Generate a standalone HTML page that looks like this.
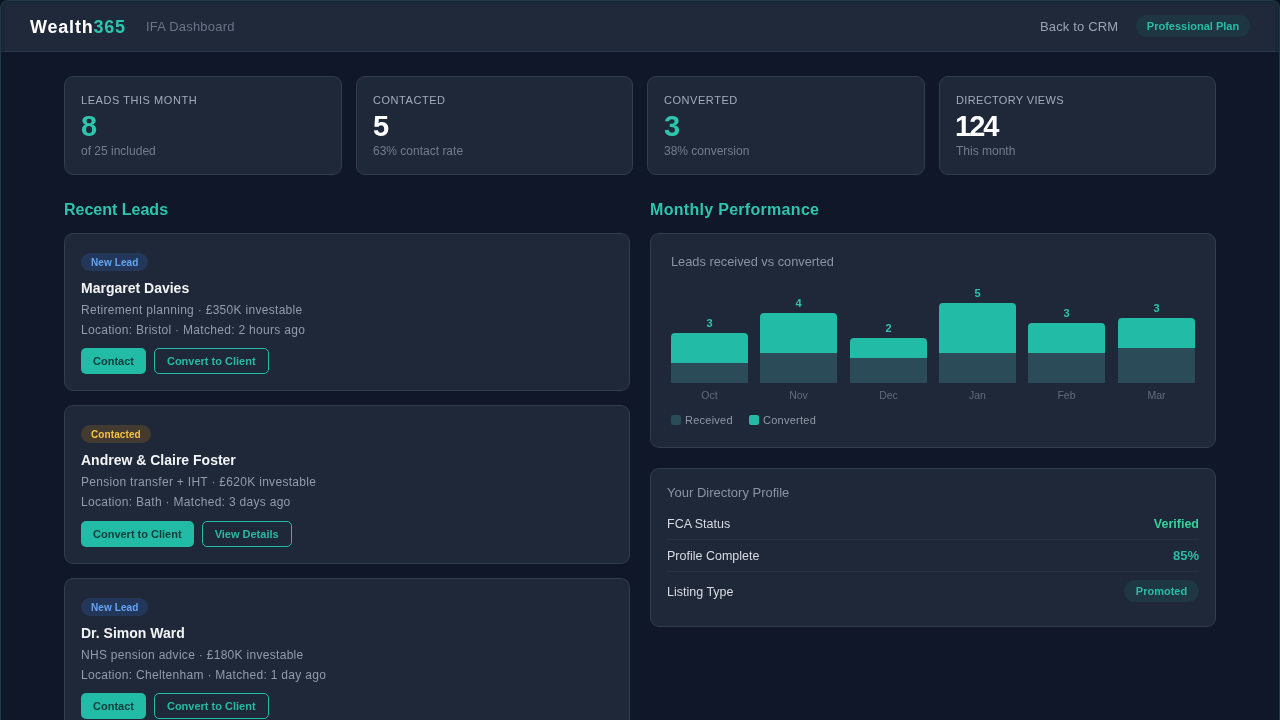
<!DOCTYPE html>
<html><head><meta charset="utf-8">
<style>
*{box-sizing:border-box;margin:0;padding:0}
html,body{width:1280px;height:720px;overflow:hidden;background:#0b1220}
body{font-family:"Liberation Sans",sans-serif;color:#e5e7eb;position:relative}
.frame{will-change:transform;position:absolute;left:0;top:0;width:1280px;height:720px;background:#0f1729;border-radius:8px 8px 0 0;overflow:hidden}
.ov{position:absolute;left:0;top:0;width:1280px;height:730px;border:1px solid #223848;border-radius:8px;pointer-events:none;box-shadow:inset 0 0 0 4px rgba(0,35,45,0.22)}
.hdr{position:absolute;left:0;top:0;width:1280px;height:52px;background:#1f293a;border-bottom:1px solid #2a3748}
.logo{position:absolute;left:30px;top:14.5px;font-size:18px;font-weight:bold;color:#fff;letter-spacing:0.8px;line-height:24px}
.logo span{color:#2ec4ad}
.sub{position:absolute;left:146px;top:19px;font-size:13px;color:#6b7384;line-height:16px;letter-spacing:0.2px}
.back{position:absolute;left:1040px;top:19px;font-size:13px;color:#9aa3b2;line-height:16px;letter-spacing:0.15px}
.plan{position:absolute;left:1136px;top:15px;width:114px;height:22px;border-radius:11px;background:#1e3641;color:#2bbba6;font-size:11px;font-weight:bold;line-height:22px;text-align:center}
.stat{position:absolute;top:76px;width:278px;height:99px;background:#1f2838;border:1px solid #313c4d;border-radius:9px}
.stat .l{position:absolute;left:16px;top:16px;font-size:11px;letter-spacing:0.55px;color:#a3acba;line-height:14px}
.stat .v{position:absolute;left:16px;top:33px;font-size:29px;letter-spacing:-1px;font-weight:bold;color:#fff;line-height:32px}
.stat .v.t{color:#2ec4ad}
.stat .s{position:absolute;left:16px;top:67px;font-size:12px;color:#737c8c;line-height:14px}
.h2{position:absolute;top:200px;font-size:16px;font-weight:bold;color:#2ec4ad;line-height:20px}
.lead{position:absolute;left:64px;width:566px;height:158px;background:#1f2838;border:1px solid #313c4d;border-radius:9px}
.badge{position:absolute;left:16px;top:19px;height:18px;padding:0 10px;border-radius:9px;font-size:10px;letter-spacing:0.1px;font-weight:bold;line-height:19px}
.badge.n{background:#23375a;color:#64a4f4}
.badge.c{background:#433b30;color:#f4c244}
.lead .nm{position:absolute;left:16px;top:44px;font-size:14px;font-weight:bold;color:#f3f4f6;line-height:20px}
.lead .d1{position:absolute;left:16px;top:68px;font-size:12px;color:#939baa;line-height:16px;letter-spacing:0.3px}
.lead .d2{position:absolute;left:16px;top:87.5px;font-size:12px;color:#939baa;line-height:16px;letter-spacing:0.3px}
.btns{position:absolute;left:16px;top:114px;height:26px;display:flex;gap:8px}
.btn{height:26px;border-radius:5px;font-size:11px;font-weight:bold}
.btn.f{background:#22bba5;color:#11403e;padding:0 12px;line-height:26px}
.btn.o{background:transparent;color:#2ab8a3;padding:0 12px;line-height:24px;border:1px solid #22bba5}
.card{position:absolute;left:650px;width:566px;background:#1f2838;border:1px solid #313c4d;border-radius:9px}
.chart{top:233px;height:215px}
.ct{position:absolute;left:20px;top:20px;font-size:12.8px;color:#8b93a1;line-height:16px}
.bar{position:absolute;width:77px}
.bar .cv{position:absolute;left:0;width:77px;background:#22bba5;border-radius:4px 4px 0 0}
.bar .rc{position:absolute;left:0;width:77px;background:#2a4b57;bottom:0}
.bar .num{position:absolute;left:0;width:77px;text-align:center;font-size:11px;font-weight:bold;color:#2ec4ad;line-height:12px}
.mo{position:absolute;width:77px;text-align:center;font-size:10.5px;color:#636b7b;line-height:12px;top:155px}
.leg{position:absolute;top:180px;font-size:11px;color:#9199a6;line-height:12px;letter-spacing:0.25px}
.sq{position:absolute;top:181px;width:10px;height:10px;border-radius:2px}
.prof{top:468px;height:159px}
.pt{position:absolute;left:16px;top:16px;font-size:13px;color:#8b93a1;line-height:16px}
.row{position:absolute;left:16px;width:532px;font-size:12.5px;color:#d8dce2;line-height:16px}
.row .r{position:absolute;right:0;top:0;font-weight:bold}
.div{position:absolute;left:16px;width:532px;height:1px;background:#263141}
.pill{position:absolute;right:16px;top:111px;width:75px;height:22px;border-radius:11px;background:#1e3742;color:#2bbba6;font-size:11px;font-weight:bold;line-height:22px;text-align:center}
</style></head><body>
<div class="frame">
  <div class="hdr">
    <div class="logo">Wealth<span>365</span></div>
    <div class="sub">IFA Dashboard</div>
    <div class="back">Back to CRM</div>
    <div class="plan">Professional Plan</div>
  </div>

  <div class="stat" style="left:64px"><div class="l">LEADS THIS MONTH</div><div class="v t">8</div><div class="s">of 25 included</div></div>
  <div class="stat" style="left:356px;width:277px"><div class="l">CONTACTED</div><div class="v">5</div><div class="s">63% contact rate</div></div>
  <div class="stat" style="left:647px"><div class="l">CONVERTED</div><div class="v t">3</div><div class="s">38% conversion</div></div>
  <div class="stat" style="left:939px;width:277px"><div class="l" style="letter-spacing:0.35px">DIRECTORY VIEWS</div><div class="v" style="margin-left:-1px;letter-spacing:-2px">124</div><div class="s">This month</div></div>

  <div class="h2" style="left:64px">Recent Leads</div>
  <div class="h2" style="left:650px;letter-spacing:0.3px">Monthly Performance</div>

  <div class="lead" style="top:233px">
    <div class="badge n">New Lead</div>
    <div class="nm">Margaret Davies</div>
    <div class="d1">Retirement planning · £350K investable</div>
    <div class="d2">Location: Bristol · Matched: 2 hours ago</div>
    <div class="btns"><div class="btn f">Contact</div><div class="btn o">Convert to Client</div></div>
  </div>
  <div class="lead" style="top:405px;height:159px">
    <div class="badge c">Contacted</div>
    <div class="nm">Andrew &amp; Claire Foster</div>
    <div class="d1">Pension transfer + IHT · £620K investable</div>
    <div class="d2">Location: Bath · Matched: 3 days ago</div>
    <div class="btns" style="top:115px"><div class="btn f">Convert to Client</div><div class="btn o">View Details</div></div>
  </div>
  <div class="lead" style="top:578px">
    <div class="badge n">New Lead</div>
    <div class="nm">Dr. Simon Ward</div>
    <div class="d1">NHS pension advice · £180K investable</div>
    <div class="d2">Location: Cheltenham · Matched: 1 day ago</div>
    <div class="btns"><div class="btn f">Contact</div><div class="btn o">Convert to Client</div></div>
  </div>

  <div class="card chart">
    <div class="ct">Leads received vs converted</div>
    <!-- bars: bottom at card-relative 149 (abs 383) -->
    <div class="bar" style="left:20px;top:84px;height:65px"><div class="num" style="top:-1px">3</div><div class="cv" style="top:15px;height:30px"></div><div class="rc" style="height:20px"></div></div>
    <div class="bar" style="left:109px;top:64px;height:85px"><div class="num" style="top:-1px">4</div><div class="cv" style="top:15px;height:40px"></div><div class="rc" style="height:30px"></div></div>
    <div class="bar" style="left:199px;top:89px;height:60px"><div class="num" style="top:-1px">2</div><div class="cv" style="top:15px;height:20px"></div><div class="rc" style="height:25px"></div></div>
    <div class="bar" style="left:288px;top:54px;height:95px"><div class="num" style="top:-1px">5</div><div class="cv" style="top:15px;height:50px"></div><div class="rc" style="height:30px"></div></div>
    <div class="bar" style="left:377px;top:74px;height:75px"><div class="num" style="top:-1px">3</div><div class="cv" style="top:15px;height:30px"></div><div class="rc" style="height:30px"></div></div>
    <div class="bar" style="left:467px;top:69px;height:80px"><div class="num" style="top:-1px">3</div><div class="cv" style="top:15px;height:30px"></div><div class="rc" style="height:35px"></div></div>
    <div class="mo" style="left:20px">Oct</div>
    <div class="mo" style="left:109px">Nov</div>
    <div class="mo" style="left:199px">Dec</div>
    <div class="mo" style="left:288px">Jan</div>
    <div class="mo" style="left:377px">Feb</div>
    <div class="mo" style="left:467px">Mar</div>
    <div class="sq" style="left:20px;background:#2a4b57"></div><div class="leg" style="left:34px">Received</div>
    <div class="sq" style="left:98px;background:#22bba5"></div><div class="leg" style="left:112px">Converted</div>
  </div>

  <div class="card prof">
    <div class="pt">Your Directory Profile</div>
    <div class="row" style="top:47px">FCA Status<span class="r" style="color:#34d399">Verified</span></div>
    <div class="div" style="top:70px"></div>
    <div class="row" style="top:79px">Profile Complete<span class="r" style="color:#2bbba6;font-size:13px;top:-0.5px">85%</span></div>
    <div class="div" style="top:102px"></div>
    <div class="row" style="top:115px">Listing Type</div>
    <div class="pill">Promoted</div>
  </div>
  <div class="ov"></div>
</div>
</body></html>
